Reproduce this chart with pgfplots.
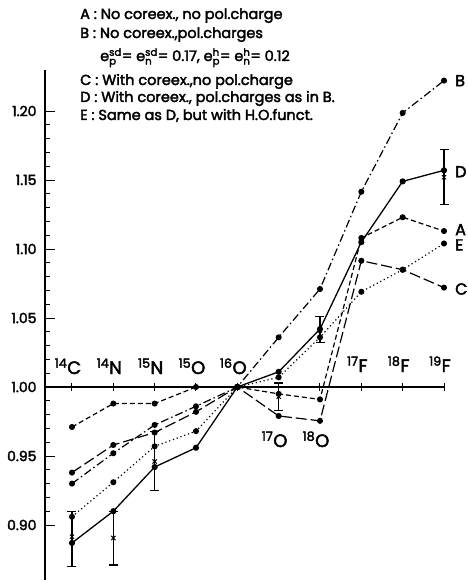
\documentclass[border=0pt]{standalone}
\usepackage{fontspec}
\setmainfont{Poppins}[FakeBold=2.5]
\usepackage{amsmath}
\usepackage{pgfplots}
\pgfplotsset{compat=1.18}
\usetikzlibrary{calc}

\pgfplotstableread{
x A B C D E
0 0.971 0.930 0.938 0.887 0.906
1 0.988 0.952 0.958 0.910 0.931
2 0.988 0.9725 0.967 0.942 0.957
3 1.000 0.986 0.982 0.956 0.968
4 1.000 1.000 1.000 1.000 1.000
5 0.995 1.036 0.979 1.011 1.007
6 0.991 1.071 0.9755 1.042 1.036
7 1.108 1.1415 1.0915 1.105 1.069
8 1.123 1.1986 1.085 1.149 1.085
9 1.113 1.222 1.072 1.157 1.104
}\datatable

\begin{document}
\begin{tikzpicture}
\begin{axis}[name=ax, scale only axis, width=399pt, height=510.6pt,
  xmin=-0.653, xmax=9, ymin=0.86, ymax=1.23,
  axis x line=none, axis y line*=left,
  ytick={0.90,0.95,1.00,1.05,1.10,1.15,1.20},
  minor y tick num=4,
  tick align=inside,
  major tick length=10pt, minor tick length=5pt,
  every tick/.style={black, line width=1pt},
  axis line style={line width=1.2pt},
  /pgf/number format/assume math mode=true,
  yticklabel style={/pgf/number format/.cd, fixed, fixed zerofill, precision=2},
  ticklabel style={font=\fontsize{14}{16}\selectfont, xshift=-5pt},
  clip=false,
]
% zero line and category ticks
\addplot[black, line width=1.2pt, mark=none] coordinates {(-0.653,1) (9,1)};
\addplot[only marks, mark=|, mark size=4pt, mark options={line width=1pt}] coordinates {(0,1) (1,1) (2,1) (3,1) (4,1) (5,1) (6,1) (7,1) (8,1) (9,1)};
% A
\addplot[black, line width=1.2pt, dash pattern=on 5pt off 3pt, mark=*, mark size=2.4pt, mark options={solid}] table[x=x, y=A] {\datatable};
% B
\addplot[black, line width=1.2pt, dash pattern=on 8pt off 3pt on 1.5pt off 3pt, mark=*, mark size=2.4pt, mark options={solid}] table[x=x, y=B] {\datatable};
% C
\addplot[black, line width=1.2pt, dash pattern=on 11pt off 4pt, mark=*, mark size=2.4pt, mark options={solid}] table[x=x, y=C] {\datatable};
% D
\addplot[black, line width=1.3pt, solid, mark=*, mark size=2.4pt] table[x=x, y=D] {\datatable};
% E
\addplot[black, line width=1.2pt, dash pattern=on 1.2pt off 2.8pt, mark=*, mark size=2.4pt, mark options={solid}] table[x=x, y=E] {\datatable};
% experimental values with error bars
\addplot[black, only marks, mark=x, mark size=3pt, mark options={line width=1pt},
  error bars/.cd, y dir=both, y explicit, error bar style={line width=1.3pt},
  error mark options={line width=1.3pt, mark size=4.5pt, rotate=90}]
  coordinates {
  (0,0.8915) += (0,0.0185) -= (0,0.0215)
  (1,0.8906) += (0,0.0194) -= (0,0.0196)
  (2,0.946) += (0,0.022) -= (0,0.021)
  (5,0.993) += (0,0.010) -= (0,0.010)
  (6,1.041) += (0,0.010) -= (0,0.009)
  (9,1.152) += (0,0.020) -= (0,0.020)
  };
% category labels
\begin{scope}[every node/.style={font=\fontsize{18}{20}\selectfont, inner sep=0pt}]
\node[anchor=base, xshift=-4pt, yshift=13pt] at (axis cs:0,1) {\textsuperscript{14}C};
\node[anchor=base, xshift=-4pt, yshift=13pt] at (axis cs:1,1) {\textsuperscript{14}N};
\node[anchor=base, xshift=-4pt, yshift=13pt] at (axis cs:2,1) {\textsuperscript{15}N};
\node[anchor=base, xshift=-4pt, yshift=13pt] at (axis cs:3,1) {\textsuperscript{15}O};
\node[anchor=base, xshift=-4pt, yshift=13pt] at (axis cs:4,1) {\textsuperscript{16}O};
\node[anchor=base, xshift=-4pt, yshift=-60pt] at (axis cs:5,1) {\textsuperscript{17}O};
\node[anchor=base, xshift=-4pt, yshift=-60pt] at (axis cs:6,1) {\textsuperscript{18}O};
\node[anchor=base, xshift=-4pt, yshift=15pt] at (axis cs:7,1) {\textsuperscript{17}F};
\node[anchor=base, xshift=-4pt, yshift=15pt] at (axis cs:8,1) {\textsuperscript{18}F};
\node[anchor=base, xshift=-4pt, yshift=15pt] at (axis cs:9,1) {\textsuperscript{19}F};
\end{scope}
% curve labels
\begin{scope}[every node/.style={font=\fontsize{16}{18}\selectfont, inner sep=0pt, anchor=west, xshift=11pt}]
\node at (axis cs:9,1.222) {B};
\node at (axis cs:9,1.156) {D};
\node at (axis cs:9,1.114) {A};
\node at (axis cs:9,1.103) {E};
\node at (axis cs:9,1.071) {C};
\end{scope}
\end{axis}
\begin{scope}[shift={($(ax.south west)+(-45pt,580.2pt)$)}, x=1pt, y=-1pt]
\useasboundingbox (0,0) rectangle (467,582);
\begin{scope}[every node/.style={font=\fontsize{14.5}{16}\selectfont, inner sep=0pt, anchor=base west}]
\node at (80,19) {A : No coreex., no pol.charge};
\node at (80,38) {B : No coreex.,pol.charges};
\node at (100,61) {e$^{\text{sd}}_{\text{p}}$= e$^{\text{sd}}_{\text{n}}$= 0.17, e$^{\text{h}}_{\text{p}}$= e$^{\text{h}}_{\text{n}}$= 0.12};
\node at (80,85) {C : With coreex.,no pol.charge};
\node at (80,102) {D : With coreex., pol.charges as in B.};
\node at (80,120) {E : Same as D, but with H.O.funct.};
\end{scope}
\end{scope}
\end{tikzpicture}
\end{document}
